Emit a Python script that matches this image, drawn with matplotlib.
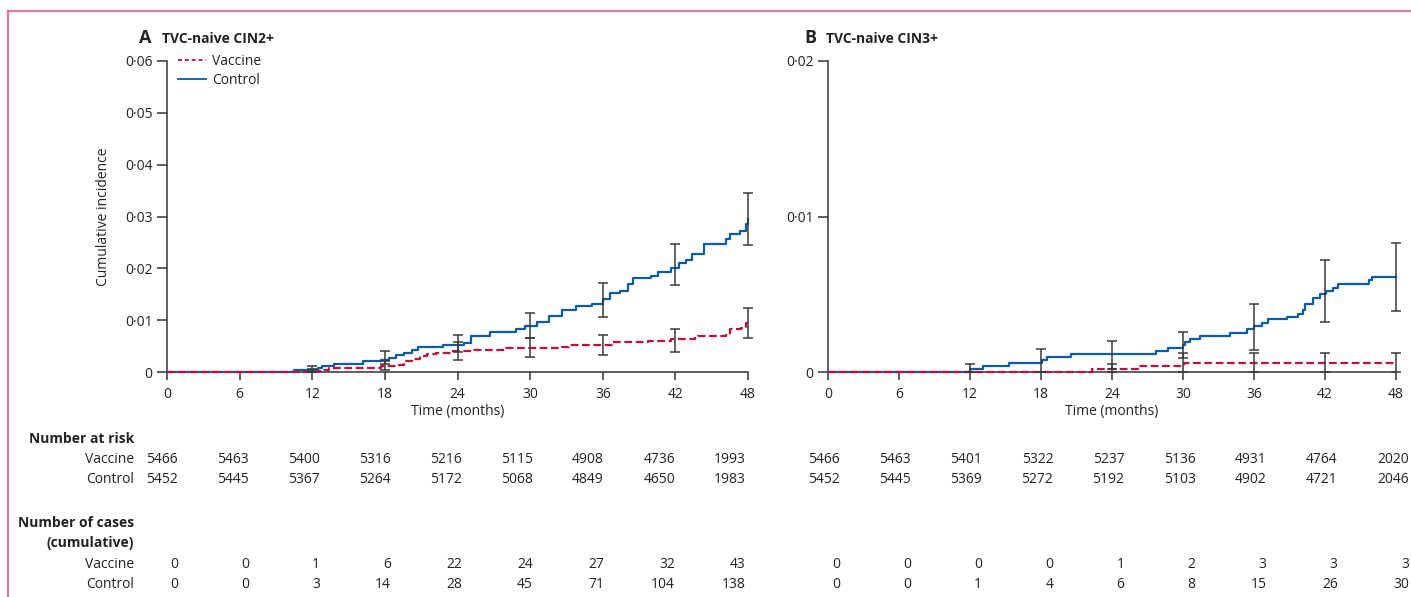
import matplotlib
matplotlib.use("Agg")
import matplotlib.pyplot as plt
from matplotlib.lines import Line2D

plt.rcParams['font.family'] = ['Open Sans', 'DejaVu Sans']

W, H = 1411, 597
fig = plt.figure(figsize=(W / 100, H / 100), dpi=100)


def fx(px):
    return px / W


def fy(py):
    return 1 - py / H


# ---------------- data ----------------
month_ticks = [0, 6, 12, 18, 24, 30, 36, 42, 48]
ci_months = [12, 18, 24, 30, 36, 42, 48]

# Panel A: CIN2+
a_ctrl_t = [0, 10.5, 12.5, 12.8, 13.8, 16.2, 17.7, 18.3, 18.9, 19.6, 20.2, 20.7, 22.8,
            24.5, 25.1, 26.7, 28.8, 29.6, 30.6, 31.6, 32.6, 33.8, 35.1, 36.0, 36.6,
            37.4, 38.1, 38.5, 40.0, 40.6, 41.6, 42.3, 42.9, 43.4, 44.4, 46.2, 46.5,
            47.3, 47.8, 48]
a_ctrl_y = [0, 0.0003, 0.0007, 0.0011, 0.0016, 0.0021, 0.0024, 0.0027, 0.0032, 0.0037,
            0.0042, 0.0048, 0.0053, 0.0056, 0.0069, 0.0077, 0.0082, 0.0088, 0.0096,
            0.0109, 0.0119, 0.0127, 0.0132, 0.0140, 0.0152, 0.0156, 0.0169, 0.0182,
            0.0185, 0.0192, 0.0201, 0.0211, 0.0217, 0.0227, 0.0246, 0.0256, 0.0266,
            0.0272, 0.0285, 0.0296]
a_vac_t = [0, 12.5, 13.0, 13.4, 17.7, 18.9, 19.6, 20.2, 20.9, 21.5, 22.2, 23.5, 25.4,
           28.0, 32.6, 33.2, 36.8, 39.7, 41.6, 43.6, 43.9, 46.2, 46.5, 47.4, 47.8, 48]
a_vac_y = [0, 0.0001, 0.0004, 0.0007, 0.0011, 0.0014, 0.0021, 0.0026, 0.0030, 0.0034,
           0.0037, 0.0041, 0.0043, 0.0046, 0.0048, 0.0052, 0.0057, 0.0059, 0.0063,
           0.0065, 0.0069, 0.0072, 0.0082, 0.0085, 0.0094, 0.0095]

a_ctrl_ci_mid = [0.0005, 0.0026, 0.0055, 0.0088, 0.0140, 0.0209, 0.0296]
a_ctrl_ci_lo = [0.0000, 0.0015, 0.0038, 0.0065, 0.0107, 0.0168, 0.0245]
a_ctrl_ci_hi = [0.0012, 0.0040, 0.0072, 0.0114, 0.0171, 0.0246, 0.0345]
a_vac_ci_mid = [0.0001, 0.0011, 0.0042, 0.0047, 0.0052, 0.0061, 0.0095]
a_vac_ci_lo = [0.0000, 0.0003, 0.0024, 0.0029, 0.0032, 0.0039, 0.0065]
a_vac_ci_hi = [0.0005, 0.0021, 0.0058, 0.0066, 0.0071, 0.0082, 0.0123]

# Panel B: CIN3+
b_ctrl_t = [0, 12.0, 13.1, 15.3, 18.05, 18.5, 20.5, 27.7, 28.7, 30.0, 30.2, 30.6, 31.45,
            34.0, 35.4, 36.0, 36.7, 37.2, 38.8, 39.7, 40.1, 40.35, 41.0, 41.6, 42.1,
            42.7, 43.1, 45.7, 46.0, 48]
b_ctrl_y = [0, 0.0002, 0.0004, 0.0006, 0.00077, 0.00094, 0.00113, 0.00135, 0.00156,
            0.00171, 0.00194, 0.00214, 0.00231, 0.00252, 0.00274, 0.00295, 0.00316,
            0.00338, 0.00355, 0.00376, 0.00397, 0.00436, 0.00479, 0.0050, 0.00521,
            0.00543, 0.00568, 0.0059, 0.00611, 0.00611]
b_vac_t = [0, 22.3, 26.2, 30.1, 48]
b_vac_y = [0, 0.0002, 0.0004, 0.0006, 0.0006]

b_ctrl_ci_mid = [0.0002, 0.00077, 0.00113, 0.00171, 0.00295, 0.00521, 0.00611]
b_ctrl_ci_lo = [0.0000, 0.0000, 0.0002, 0.0009, 0.0014, 0.0032, 0.0039]
b_ctrl_ci_hi = [0.00053, 0.0015, 0.0020, 0.0026, 0.0044, 0.0072, 0.0083]
b_vac_ci_mid = [0.0, 0.0, 0.0002, 0.0006, 0.0006, 0.0006, 0.0006]
b_vac_ci_lo = [0.0, 0.0, 0.0, 0.0, 0.0, 0.0, 0.0]
b_vac_ci_hi = [0.0, 0.0, 0.0005, 0.0012, 0.0012, 0.0012, 0.0012]

# Tables
a_risk_vac = ["5466", "5463", "5400", "5316", "5216", "5115", "4908", "4736", "1993"]
a_risk_ctrl = ["5452", "5445", "5367", "5264", "5172", "5068", "4849", "4650", "1983"]
a_cases_vac = ["0", "0", "1", "6", "22", "24", "27", "32", "43"]
a_cases_ctrl = ["0", "0", "3", "14", "28", "45", "71", "104", "138"]
b_risk_vac = ["5466", "5463", "5401", "5322", "5237", "5136", "4931", "4764", "2020"]
b_risk_ctrl = ["5452", "5445", "5369", "5272", "5192", "5103", "4902", "4721", "2046"]
b_cases_vac = ["0", "0", "0", "0", "1", "2", "3", "3", "3"]
b_cases_ctrl = ["0", "0", "1", "4", "6", "8", "15", "26", "30"]

a_yticks = [0, 0.01, 0.02, 0.03, 0.04, 0.05, 0.06]
a_ylabels = ["0", "0·01", "0·02", "0·03", "0·04", "0·05", "0·06"]
b_yticks = [0, 0.01, 0.02]
b_ylabels = ["0", "0·01", "0·02"]

# ---------------- style ----------------
BLUE = "#0d5aa7"
RED = "#c0103c"
DARK = "#333333"
FS = 10

axA = fig.add_axes([fx(167), fy(372), fx(748) - fx(167), fy(61) - fy(372)])
axB = fig.add_axes([fx(828), fy(372), fx(1396) - fx(828), fy(61) - fy(372)])


def style_axis(ax, yticks, ylabels, ymax):
    ax.set_xlim(0, 48)
    ax.set_ylim(0, ymax)
    for s in ["top", "right"]:
        ax.spines[s].set_visible(False)
    for s in ["left", "bottom"]:
        ax.spines[s].set_color(DARK)
        ax.spines[s].set_linewidth(1.1)
    ax.set_xticks(month_ticks)
    ax.set_xticklabels([str(m) for m in month_ticks])
    ax.set_yticks(yticks)
    ax.set_yticklabels(ylabels)
    ax.tick_params(axis="x", length=6, width=1.1, color=DARK, pad=5,
                   labelsize=FS, labelcolor="#222222")
    ax.tick_params(axis="y", length=7.5, width=1.1, color=DARK, pad=3,
                   labelsize=FS, labelcolor="#222222")
    ax.set_xlabel("Time (months)", fontsize=FS, color="#222222", labelpad=1)
    ax.patch.set_alpha(0)


def draw_panel(ax, ct, cy, vt, vy, cmid, clo, chi, vmid, vlo, vhi):
    ax.step(ct, cy, where="post", color=BLUE, lw=1.6, zorder=3, clip_on=False)
    ax.step(vt, vy, where="post", color=RED, lw=1.6, ls=(0, (3.5, 1.6)),
            zorder=4, clip_on=False)
    for mid, lo, hi in ((cmid, clo, chi), (vmid, vlo, vhi)):
        yerr = [[m - l for m, l in zip(mid, lo)], [h - m for m, h in zip(mid, hi)]]
        ax.errorbar(ci_months, mid, yerr=yerr, fmt="none", ecolor="#3a3a3a",
                    elinewidth=1.1, capsize=3.6, capthick=1.1, zorder=5,
                    clip_on=False)


style_axis(axA, a_yticks, a_ylabels, 0.06)
style_axis(axB, b_yticks, b_ylabels, 0.02)
draw_panel(axA, a_ctrl_t, a_ctrl_y, a_vac_t, a_vac_y, a_ctrl_ci_mid, a_ctrl_ci_lo,
           a_ctrl_ci_hi, a_vac_ci_mid, a_vac_ci_lo, a_vac_ci_hi)
draw_panel(axB, b_ctrl_t, b_ctrl_y, b_vac_t, b_vac_y, b_ctrl_ci_mid, b_ctrl_ci_lo,
           b_ctrl_ci_hi, b_vac_ci_mid, b_vac_ci_lo, b_vac_ci_hi)

axA.set_ylabel("Cumulative incidence", fontsize=FS, color="#222222", labelpad=10)

# Legend
handles = [Line2D([], [], color=RED, lw=1.3, ls=(0, (2.2, 1.6))),
           Line2D([], [], color=BLUE, lw=1.3)]
fig.legend(handles, ["Vaccine", "Control"], loc="upper left",
           bbox_to_anchor=(fx(178), fy(54)), bbox_transform=fig.transFigure,
           frameon=False, fontsize=FS, handlelength=2.0, handletextpad=0.45,
           labelspacing=0.28, borderaxespad=0, borderpad=0,
           labelcolor="#222222")

# Titles
fig.text(fx(139), fy(43), "A", fontsize=13, fontweight="bold", color="#222222",
         va="baseline", ha="left")
fig.text(fx(162), fy(43), "TVC-naive CIN2+", fontsize=FS, fontweight="bold",
         color="#222222", va="baseline", ha="left")
fig.text(fx(804), fy(43), "B", fontsize=13, fontweight="bold", color="#222222",
         va="baseline", ha="left")
fig.text(fx(826), fy(43), "TVC-naive CIN3+", fontsize=FS, fontweight="bold",
         color="#222222", va="baseline", ha="left")

# Tables
TXT = "#222222"
lab_x = 134
fig.text(fx(lab_x), fy(443), "Number at risk", fontsize=FS, fontweight="bold",
         color=TXT, ha="right", va="baseline")
fig.text(fx(lab_x), fy(463), "Vaccine", fontsize=FS, color=TXT, ha="right", va="baseline")
fig.text(fx(lab_x), fy(483), "Control", fontsize=FS, color=TXT, ha="right", va="baseline")
fig.text(fx(lab_x), fy(527), "Number of cases", fontsize=FS, fontweight="bold",
         color=TXT, ha="right", va="baseline")
fig.text(fx(lab_x), fy(547), "(cumulative)", fontsize=FS, fontweight="bold",
         color=TXT, ha="right", va="baseline")
fig.text(fx(lab_x), fy(568), "Vaccine", fontsize=FS, color=TXT, ha="right", va="baseline")
fig.text(fx(lab_x), fy(588), "Control", fontsize=FS, color=TXT, ha="right", va="baseline")


def table(x0, step, rows):
    for base_y, vals in rows:
        for i, v in enumerate(vals):
            fig.text(fx(x0 + step * i), fy(base_y), v, fontsize=FS, color=TXT,
                     ha="right", va="baseline")


table(178, 71.0, [(463, a_risk_vac), (483, a_risk_ctrl),
                  (568, a_cases_vac), (588, a_cases_ctrl)])
table(840, 71.1, [(463, b_risk_vac), (483, b_risk_ctrl),
                  (568, b_cases_vac), (588, b_cases_ctrl)])

# Pink frame
PINK = "#d97b98"
fig.add_artist(Line2D([fx(8), 1], [fy(10.5), fy(10.5)], color=PINK, lw=1.6,
                      transform=fig.transFigure))
fig.add_artist(Line2D([fx(8), fx(8)], [0, fy(10.5)], color=PINK, lw=1.6,
                      transform=fig.transFigure))

fig.savefig("out.png", dpi=100)
